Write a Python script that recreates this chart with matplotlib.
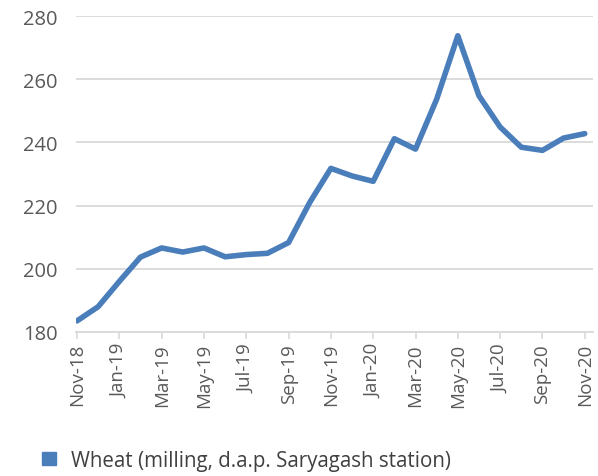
import numpy as np
import matplotlib
matplotlib.use("Agg")
import matplotlib.pyplot as plt
from matplotlib.patches import Patch

# --- DATA ---
months = ["Nov-18", "Dec-18", "Jan-19", "Feb-19", "Mar-19", "Apr-19", "May-19",
          "Jun-19", "Jul-19", "Aug-19", "Sep-19", "Oct-19", "Nov-19", "Dec-19",
          "Jan-20", "Feb-20", "Mar-20", "Apr-20", "May-20", "Jun-20", "Jul-20",
          "Aug-20", "Sep-20", "Oct-20", "Nov-20"]
wheat = [183.5, 188.0, 196.0, 203.7, 206.6, 205.3, 206.6, 203.8, 204.5, 204.9,
         208.3, 221.0, 231.8, 229.4, 227.7, 241.2, 237.9, 253.7, 273.8, 254.8,
         244.9, 238.5, 237.5, 241.4, 242.8]
series_name = "Wheat (milling, d.a.p. Saryagash station)"
yticks = [180, 200, 220, 240, 260, 280]

plt.rcParams['font.family'] = ['Open Sans', 'DejaVu Sans']
LINE_COLOR = '#4a7ebb'
TEXT_COLOR = '#595959'
GRID_COLOR = '#d9d9d9'

fig = plt.figure(figsize=(5.98, 4.77), dpi=100)
ax = fig.add_axes([0.127, 0.302, 0.865, 0.662])

x = np.arange(len(months))
ax.plot(x, wheat, color=LINE_COLOR, lw=4.0, solid_joinstyle='round',
        solid_capstyle='round', zorder=3)

ax.set_ylim(180, 280)
ax.set_yticks(yticks)
ax.set_xlim(-0.05, len(months) - 1 + 0.4)
ax.set_xticks(x[::2])
ax.set_xticklabels(months[::2], rotation=90)

ax.grid(axis='y', color=GRID_COLOR, lw=1.3)
ax.set_axisbelow(True)
for side in ['top', 'right', 'left']:
    ax.spines[side].set_visible(False)
ax.spines['bottom'].set_color(GRID_COLOR)
ax.spines['bottom'].set_linewidth(1.3)
ax.tick_params(axis='y', length=0, labelsize=14.5, colors=TEXT_COLOR, pad=13)
ax.tick_params(axis='x', length=5, width=1.2, color=GRID_COLOR,
               labelsize=13.5, labelcolor=TEXT_COLOR, pad=3)

handle = Patch(facecolor=LINE_COLOR, edgecolor=LINE_COLOR)
fig.legend([handle], [series_name], loc='lower left',
           bbox_to_anchor=(0.04, -0.028), frameon=False, fontsize=14.8,
           handlelength=0.65, handleheight=0.65, handletextpad=0.75,
           labelcolor='#404040')

fig.savefig("out.png", dpi=100)
